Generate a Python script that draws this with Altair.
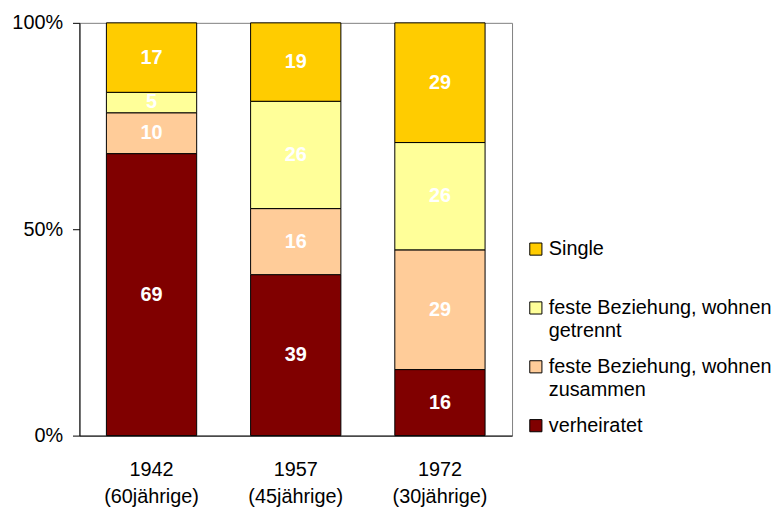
import altair as alt
import pandas as pd

# ---- data ----
categories = ["1942|(60jährige)", "1957|(45jährige)", "1972|(30jährige)"]
series = [
    "verheiratet",
    "feste Beziehung, wohnen zusammen",
    "feste Beziehung, wohnen getrennt",
    "Single",
]
verheiratet = [69, 39, 16]
zusammen = [10, 16, 29]
getrennt = [5, 26, 26]
single = [17, 19, 29]
colors = ["#800000", "#FFCC99", "#FFFF99", "#FFCC00"]
legend_line1 = ["verheiratet", "feste Beziehung, wohnen", "feste Beziehung, wohnen", "Single"]
legend_line2 = ["", "zusammen", "getrennt", ""]
y_ticks = [0, 0.5, 1]

rows = []
for s_i, (s, vals) in enumerate(zip(series, [verheiratet, zusammen, getrennt, single])):
    for c, v in zip(categories, vals):
        rows.append({"cat": c, "series": s, "order": s_i, "value": v})
df = pd.DataFrame(rows)
legend_df = pd.DataFrame({"series": series, "line1": legend_line1, "line2": legend_line2})

FONT = "Liberation Sans"
FS = 20
color_scale = alt.Scale(domain=series, range=colors)

base = alt.Chart(df).transform_stack(
    stack="value",
    groupby=["cat"],
    as_=["y0", "y1"],
    offset="normalize",
    sort=[alt.SortField("order", order="ascending")],
).transform_calculate(mid="(datum.y0 + datum.y1) / 2")

x_enc = alt.X(
    "cat:N",
    sort=categories,
    title=None,
    scale=alt.Scale(paddingInner=0.374, paddingOuter=0.187),
    axis=alt.Axis(
        labelExpr="split(datum.label, '|')",
        labelAngle=0,
        ticks=False,
        labelPadding=24,
        labelFontSize=FS,
        labelFont=FONT,
        labelColor="black",
        labelLineHeight=27,
        domainColor="black",
        domainWidth=1,
    ),
)

y_scale = alt.Scale(domain=[0, 1], nice=False)

bars = base.mark_bar(stroke="black", strokeWidth=1).encode(
    x=x_enc,
    y=alt.Y(
        "y0:Q",
        scale=y_scale,
        title=None,
        axis=alt.Axis(
            values=y_ticks,
            format="%",
            grid=False,
            tickSize=7,
            tickColor="black",
            domainColor="black",
            domainWidth=1,
            labelPadding=10,
            labelFontSize=FS,
            labelFont=FONT,
            labelColor="black",
        ),
    ),
    y2="y1:Q",
    color=alt.Color("series:N", scale=color_scale, legend=None),
)

labels = base.mark_text(
    color="white", fontWeight="bold", fontSize=FS, font=FONT, baseline="middle"
).encode(
    x=alt.X("cat:N", sort=categories),
    y=alt.Y("mid:Q", scale=y_scale),
    text="value:Q",
)

main = alt.layer(bars, labels)

leg_order = list(reversed(series))
leg_y = alt.Y(
    "series:N",
    sort=leg_order,
    scale=alt.Scale(type="point", domain=leg_order, range=[228, 406], padding=0),
    axis=None,
)

leg_sym = alt.Chart(legend_df).mark_square(
    size=150, stroke="black", strokeWidth=1, opacity=1
).encode(
    x=alt.value(460),
    y=leg_y,
    color=alt.Color("series:N", scale=color_scale, legend=None),
)
leg_t1 = alt.Chart(legend_df).mark_text(
    align="left", baseline="middle", fontSize=FS, font=FONT, color="black"
).encode(x=alt.value(473), y=leg_y, text="line1:N")
leg_t2 = alt.Chart(legend_df).mark_text(
    align="left", baseline="middle", fontSize=FS, font=FONT, color="black", dy=23
).encode(x=alt.value(473), y=leg_y, text="line2:N")

legend = alt.layer(leg_sym, leg_t1, leg_t2)

chart = (
    alt.layer(main, legend)
    .resolve_scale(y="independent")
    .properties(
        width=436,
        height=416,
        padding={"left": 3, "top": 3, "right": 0, "bottom": 0},
        background="white",
    )
    .configure_view(stroke="#808080", strokeWidth=1)
)

chart.save("out.html", embed_options={"renderer": "svg", "actions": False})
